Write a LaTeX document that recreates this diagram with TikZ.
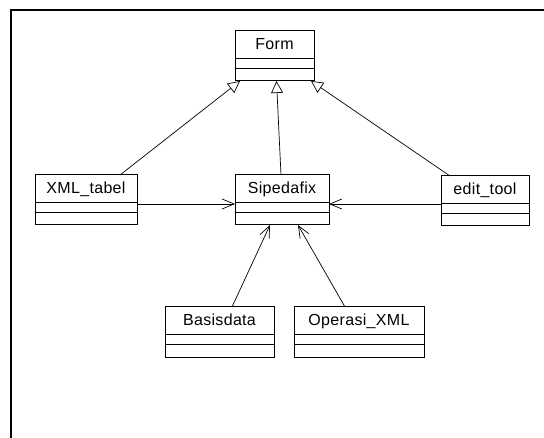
\documentclass[tikz,border=0pt]{standalone}
\usepackage{fontspec}
\setmainfont{Liberation Sans}[LetterSpace=2]
\usetikzlibrary{arrows.meta,calc}
\tikzset{
  cls/.style={draw, line width=1pt, inner sep=0pt, outer sep=0pt, anchor=north west, fill=white},
  clstext/.style={inner sep=0pt, anchor=base, font=\fontsize{16}{18}\selectfont},
  gen/.style={line width=0.7pt, -{Triangle[open, length=12pt, width=12pt]}},
  assoc/.style={line width=0.7pt, -{Straight Barb[length=12pt, width=10pt, line width=0.7pt]}},
  frame/.style={line width=2pt}
}
\newcommand{\umlcls}[6]{% name, x, y, w, h, text
  \node[cls, minimum width=#4pt, minimum height=#5pt] (#1) at (#2,#3) {};
  \draw[line width=0.8pt] ($(#1.north west)+(0,27)$) -- ($(#1.north east)+(0,27)$);
  \draw[line width=0.8pt] ($(#1.north west)+(0,37)$) -- ($(#1.north east)+(0,37)$);
  \node[clstext] (#1t) at ($(#1.north)+(0,19)$) {#6};
}
\begin{document}
\begin{tikzpicture}[x=1pt, y=-1pt]
  \useasboundingbox (0,0) rectangle (544,438);
  \draw[frame] (10.5,439) -- (10.5,10.5) -- (545,10.5);
  \umlcls{form}{235}{31}{79}{50}{Form}
  \umlcls{xml}{35}{175}{102}{50}{XML\_tabel}
  \umlcls{sip}{235}{175}{94}{50}{Sipedafix}
  \umlcls{edit}{441}{176}{88}{50}{edit\_tool}
  \umlcls{bas}{165}{307}{109}{51}{Basisdata}
  \umlcls{op}{294}{307}{130}{51}{Operasi\_XML}
  \draw[gen] ($(xml.north west)+(85,0)$) -- ($(form.south west)+(5,0)$);
  \draw[gen] ($(sip.north)+(-1,0)$) -- ($(form.south)+(2,0)$);
  \draw[gen] ($(edit.north west)+(9,0)$) -- ($(form.south east)+(-3,0)$);
  \draw[assoc] ($(xml.north east)+(0,29)$) -- ($(sip.north west)+(0,29)$);
  \draw[assoc] ($(edit.north west)+(0,28)$) -- ($(sip.north east)+(0,29)$);
  \draw[assoc] ($(bas.north west)+(67,0)$) -- ($(sip.south west)+(35,0)$);
  \draw[assoc] ($(op.north west)+(51,0)$) -- ($(sip.south west)+(63,0)$);
\end{tikzpicture}
\end{document}
